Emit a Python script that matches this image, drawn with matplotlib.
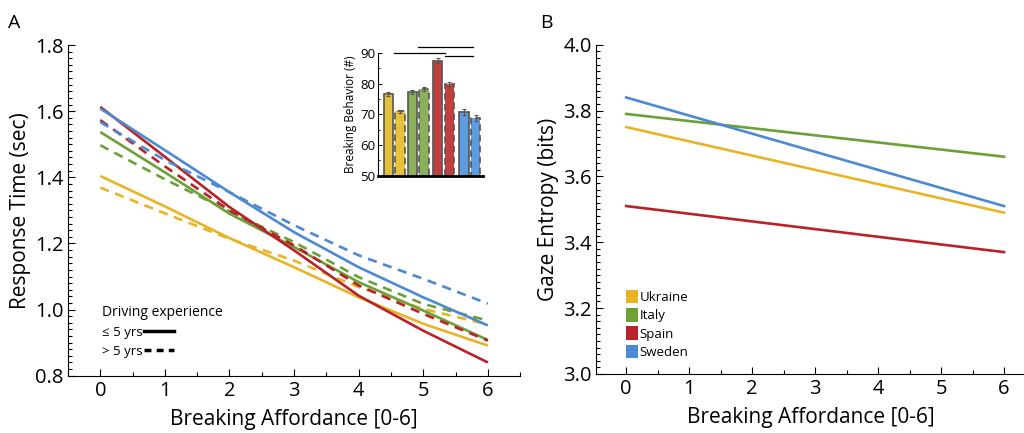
import numpy as np
import matplotlib.pyplot as plt
from matplotlib.lines import Line2D
from matplotlib.patches import Patch
from matplotlib.ticker import MultipleLocator

plt.rcParams['font.family'] = ['Open Sans', 'DejaVu Sans']

countries = ['Ukraine', 'Italy', 'Spain', 'Sweden']
colors = ['#E8B425', '#6BA137', '#B82228', '#4C89D3']
bar_colors = ['#E5C23A', '#8BAF5B', '#C23F3E', '#5E9CE0']

afford = [0, 1, 2, 3, 4, 5, 6]

# response time, <= 5 yrs experience (solid)
rt_young = {
    'Ukraine': [1.404, 1.312, 1.216, 1.128, 1.037, 0.957, 0.891],
    'Italy':   [1.537, 1.415, 1.290, 1.189, 1.083, 0.997, 0.908],
    'Spain':   [1.613, 1.462, 1.310, 1.179, 1.042, 0.936, 0.840],
    'Sweden':  [1.608, 1.482, 1.355, 1.234, 1.128, 1.037, 0.952],
}
# response time, > 5 yrs experience (dashed)
rt_old = {
    'Ukraine': [1.369, 1.291, 1.214, 1.148, 1.068, 1.002, 0.955],
    'Italy':   [1.497, 1.394, 1.297, 1.204, 1.098, 1.017, 0.967],
    'Spain':   [1.573, 1.433, 1.300, 1.194, 1.073, 0.987, 0.906],
    'Sweden':  [1.567, 1.452, 1.355, 1.255, 1.164, 1.093, 1.018],
}

# gaze entropy at affordance 0 and 6
ent_x = [0, 6]
entropy = {
    'Ukraine': [3.75, 3.49],
    'Italy':   [3.79, 3.66],
    'Spain':   [3.51, 3.37],
    'Sweden':  [3.84, 3.51],
}

# inset: breaking behaviour, pairs (<=5, >5) per country
brk_mean = [76.5, 71.0, 77.3, 78.2, 87.5, 79.8, 70.8, 68.8]
brk_err = [0.7, 0.5, 0.7, 0.7, 0.9, 0.8, 0.9, 0.9]
brk_pos = [0, 1, 2.05, 3.05, 4.2, 5.2, 6.45, 7.45]
# significance bars: (from, to, height)
sig = [(0.45, 4.8, 89.8), (2.5, 7.2, 91.9), (4.8, 7.2, 88.9)]

fig = plt.figure(figsize=(10.24, 4.33), dpi=100)

def style(ax):
    for s in ['top', 'right']:
        ax.spines[s].set_visible(False)
    ax.tick_params(which='both', direction='in', labelsize=14.5, width=0.8)
    ax.tick_params(which='major', length=5)
    ax.tick_params(which='minor', length=3)
    ax.tick_params(axis='y', pad=3)
    ax.xaxis.set_minor_locator(MultipleLocator(0.5))
    ax.yaxis.set_minor_locator(MultipleLocator(0.02))
    ax.yaxis.set_major_locator(MultipleLocator(0.2))
    ax.set_xticks(afford)

# ---- panel A
axA = fig.add_axes([0.0664, 0.1323, 0.4416, 0.7637])
for c, col in zip(countries, colors):
    axA.plot(afford, rt_young[c], color=col, lw=1.9, solid_capstyle='butt')
    axA.plot(afford, rt_old[c], color=col, lw=1.9, dashes=(3.5, 2.5))
axA.set_xlim(-0.5, 6.5)
axA.set_ylim(0.8, 1.8)
style(axA)
axA.yaxis.set_major_formatter(lambda v, p: f'{v:.1f}')
axA.set_xlabel('Breaking Affordance [0-6]', fontsize=15, labelpad=6)
axA.set_ylabel('Response Time (sec)', fontsize=15, labelpad=3)
hA = [Line2D([], [], color='black', lw=2.5),
      Line2D([], [], color='black', lw=2.5, dashes=(2, 1.5))]
legA = axA.legend(hA, ['≤ 5 yrs', '> 5 yrs'], title='Driving experience',
                  loc='lower left', bbox_to_anchor=(0.06, 0.035), frameon=False,
                  markerfirst=False, fontsize=9.5, title_fontsize=10,
                  handlelength=2.3, handletextpad=0.1, labelspacing=0.45,
                  borderpad=0)
legA._legend_box.align = 'left'

fig.text(0.008, 0.935, 'A', fontsize=14)
fig.text(0.527, 0.935, 'B', fontsize=14)

# ---- panel B
axB = fig.add_axes([0.582, 0.1365, 0.42, 0.76])
for c, col in zip(countries, colors):
    axB.plot(ent_x, entropy[c], color=col, lw=1.9)
axB.set_xlim(-0.48, 6.35)
axB.set_ylim(3.0, 4.0)
style(axB)
axB.yaxis.set_major_formatter(lambda v, p: f'{v:.1f}')
axB.set_xlabel('Breaking Affordance [0-6]', fontsize=15, labelpad=6)
axB.set_ylabel('Gaze Entropy (bits)', fontsize=15, labelpad=3)
hB = [Patch(facecolor=col, edgecolor='none') for col in colors]
axB.legend(hB, countries, loc='lower left', bbox_to_anchor=(0.055, 0.025),
           frameon=False, fontsize=9.5, handlelength=0.9, handleheight=1.2,
           handletextpad=0.1, labelspacing=0.32, borderpad=0)

# ---- inset
axI = fig.add_axes([0.369, 0.594, 0.1025, 0.284])
for i, (x, m, e) in enumerate(zip(brk_pos, brk_mean, brk_err)):
    col = bar_colors[i // 2]
    ls = '-' if i % 2 == 0 else (0, (4, 2.5))
    axI.bar(x, m - 50, bottom=50, width=0.8, color=col, edgecolor='#555555',
            linewidth=1.2, linestyle=ls)
    axI.errorbar(x, m, yerr=e, color='#555555', lw=0.8, capsize=1.5, capthick=0.8)
for x0, x1, h in sig:
    axI.plot([x0, x1], [h, h], color='black', lw=0.9, clip_on=False)
axI.set_xlim(-0.9, 8.05)
axI.set_ylim(50, 90)
axI.set_xticks([])
axI.set_yticks([50, 60, 70, 80, 90])
axI.yaxis.set_minor_locator(MultipleLocator(5))
axI.tick_params(which='both', direction='in', labelsize=9.5, width=0.7, pad=2)
axI.tick_params(which='major', length=3)
axI.tick_params(which='minor', length=1.5)
for s in ['top', 'right']:
    axI.spines[s].set_visible(False)
axI.spines['bottom'].set_linewidth(2)
axI.spines['left'].set_linewidth(0.8)
axI.set_ylabel('Breaking Behavior (#)', fontsize=8.5, labelpad=2)

fig.savefig('out.png', dpi=100)
